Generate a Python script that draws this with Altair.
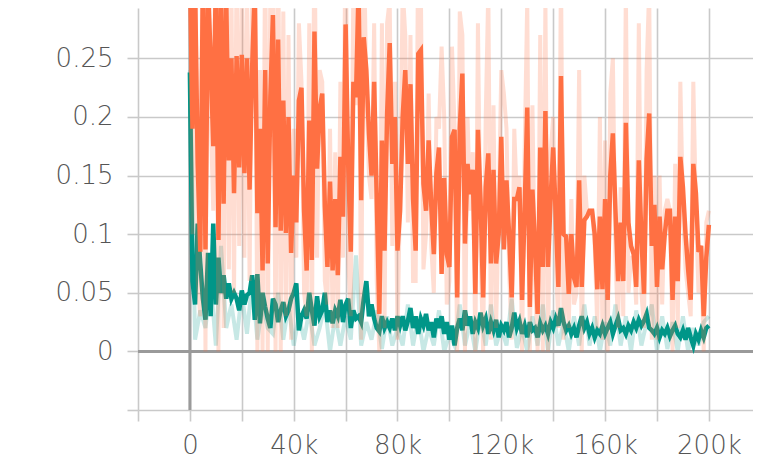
import altair as alt
import pandas as pd

# ---- data ----
# orange run, smoothed curve, one value every 1k steps (0 .. 200k)
orange_smooth = [
    0.33, 0.19, 0.31, 0.16, 0.085, 0.32, 0.087, 0.31, 0.25, 0.175, 0.32, 0.095, 0.31,
    0.126, 0.30, 0.163, 0.25, 0.135, 0.252, 0.157, 0.253,
    0.152, 0.25, 0.138, 0.243, 0.31, 0.118, 0.19,
    0.069, 0.24, 0.075, 0.217, 0.287, 0.106, 0.266, 0.103, 0.214, 0.101, 0.2, 0.084,
    0.15, 0.11, 0.214, 0.225, 0.12, 0.069, 0.197, 0.078, 0.273, 0.156, 0.207, 0.22,
    0.124, 0.072, 0.145, 0.069, 0.13, 0.065, 0.166, 0.115, 0.279, 0.16, 0.085, 0.23,
    0.217, 0.31, 0.129, 0.268, 0.24, 0.186, 0.15, 0.23, 0.13, 0.032, 0.18, 0.086,
    0.203, 0.263, 0.16, 0.2, 0.086,
    0.12, 0.2, 0.24, 0.16, 0.228, 0.13, 0.086, 0.254, 0.257, 0.143, 0.12, 0.18, 0.125,
    0.083, 0.152, 0.174, 0.066, 0.148, 0.083, 0.072, 0.183, 0.189, 0.046, 0.19, 0.237,
    0.092, 0.16, 0.134, 0.155, 0.049, 0.189, 0.13, 0.046, 0.14, 0.169, 0.075, 0.155,
    0.075, 0.1, 0.183,
    0.087, 0.146, 0.1, 0.046, 0.13, 0.13, 0.14, 0.044, 0.12, 0.208, 0.038, 0.138, 0.09,
    0.032, 0.174, 0.072, 0.205, 0.072, 0.13, 0.174, 0.115, 0.055, 0.235, 0.1, 0.098,
    0.049, 0.1, 0.063, 0.055, 0.146, 0.055, 0.112, 0.115, 0.12, 0.12, 0.1, 0.053,
    0.115, 0.053, 0.13,
    0.044, 0.15, 0.186, 0.12, 0.06, 0.11, 0.06, 0.195, 0.11, 0.09, 0.083, 0.055, 0.163,
    0.097, 0.049, 0.164, 0.203, 0.09, 0.125, 0.055, 0.115, 0.07, 0.1, 0.12, 0.12,
    0.044, 0.115, 0.06, 0.166, 0.14, 0.1, 0.07, 0.044, 0.16, 0.135, 0.085, 0.09,
    0.03, 0.08, 0.108,
]

# orange run, raw (faded) curve, one value every 1k steps
orange_raw = [
    0.35, 0.10, 0.38, 0.06, 0.03, 0.40, 0.0, 0.40, 0.20, 0.12,
    0.40, 0.0, 0.40, 0.02, 0.38, 0.07, 0.31, 0.05, 0.33, 0.09,
    0.32, 0.08, 0.32, 0.06, 0.31, 0.36, 0.0, 0.24, 0.0, 0.35,
    0.0, 0.31, 0.33, 0.0, 0.37, 0.0, 0.29, 0.03, 0.27, 0.01,
    0.19, 0.08, 0.28, 0.23, 0.05, 0.03, 0.28, 0.0, 0.38, 0.08,
    0.24, 0.23, 0.06, 0.04, 0.19, 0.02, 0.17, 0.02, 0.23, 0.08,
    0.38, 0.08, 0.03, 0.32, 0.21, 0.37, 0.01, 0.36, 0.22, 0.15,
    0.13, 0.28, 0.06, 0.0, 0.28, 0.02, 0.28, 0.30, 0.09, 0.23,
    0.01, 0.14, 0.31, 0.27, 0.11, 0.27, 0.06, 0.06, 0.36, 0.31,
    0.07, 0.10, 0.22, 0.09, 0.05, 0.20, 0.19, 0.26, 0.20, 0.04,
    0.06, 0.26, 0.19, 0.0, 0.29, 0.27, 0.0, 0.20, 0.12, 0.17,
    0.0, 0.28, 0.09, 0.0, 0.20, 0.31, 0.01, 0.21, 0.02, 0.12,
    0.24, 0.22, 0.19, 0.07, 0.01, 0.19, 0.13, 0.15, 0.0, 0.17,
    0.30, 0.0, 0.21, 0.06, 0.0, 0.27, 0.0, 0.30, 0.0, 0.17,
    0.20, 0.08, 0.02, 0.33, 0.01, 0.10, 0.02, 0.13, 0.04, 0.05,
    0.24, 0.0, 0.15, 0.12, 0.12, 0.12, 0.09, 0.02, 0.20, 0.01,
    0.18, 0.0, 0.22, 0.25, 0.08, 0.02, 0.14, 0.03, 0.31, 0.05,
    0.08, 0.08, 0.04, 0.28, 0.05, 0.02, 0.24, 0.31, 0.01, 0.15,
    0.01, 0.15, 0.04, 0.12, 0.13, 0.12, 0.0, 0.16, 0.02, 0.23,
    0.12, 0.07, 0.05, 0.03, 0.23, 0.12, 0.05, 0.09, 0.0, 0.11,
    0.12,
]

# teal run, smoothed curve, one value every 1k steps
teal_smooth = [
    0.238, 0.06, 0.04, 0.109, 0.075, 0.045, 0.027, 0.084, 0.03, 0.109, 0.04,
    0.08, 0.05, 0.065, 0.045, 0.058, 0.045, 0.05, 0.045, 0.035, 0.052,
    0.04, 0.048, 0.05, 0.065, 0.027, 0.066, 0.024, 0.05, 0.038, 0.028,
    0.02, 0.045, 0.04, 0.025, 0.035, 0.042, 0.03, 0.035, 0.045, 0.05,
    0.058, 0.018, 0.03, 0.035, 0.028, 0.05, 0.035, 0.022, 0.047, 0.03,
    0.035, 0.05, 0.025, 0.035, 0.024, 0.035, 0.03, 0.044, 0.025, 0.04,
    0.045, 0.02, 0.035, 0.028, 0.03, 0.025, 0.045, 0.06, 0.03, 0.04,
    0.028, 0.02, 0.017, 0.03, 0.02, 0.025, 0.02, 0.028, 0.018, 0.03,
    0.022, 0.03, 0.018, 0.026, 0.037, 0.02, 0.03, 0.015, 0.028, 0.022,
    0.032, 0.018, 0.025, 0.012, 0.028, 0.02, 0.03, 0.015, 0.025, 0.01,
    0.022, 0.005, 0.02, 0.028, 0.018, 0.035, 0.022, 0.03, 0.015, 0.025,
    0.02, 0.033, 0.022, 0.028, 0.015, 0.025, 0.018, 0.027, 0.012, 0.022,
    0.018, 0.025, 0.012, 0.02, 0.033, 0.02, 0.026, 0.015, 0.022, 0.012,
    0.025, 0.018, 0.02, 0.012, 0.024, 0.018, 0.022, 0.015, 0.025, 0.02,
    0.028, 0.022, 0.037, 0.025, 0.018, 0.022, 0.015, 0.02, 0.012, 0.022,
    0.03, 0.02, 0.025, 0.015, 0.02, 0.012, 0.018, 0.015, 0.022, 0.015,
    0.02, 0.025, 0.015, 0.022, 0.028, 0.018, 0.02, 0.015, 0.022, 0.018,
    0.025, 0.02, 0.027, 0.022, 0.026, 0.032, 0.02, 0.018, 0.015, 0.02,
    0.012, 0.018, 0.015, 0.02, 0.013, 0.018, 0.022, 0.015, 0.012, 0.018,
    0.01, 0.02, 0.012, 0.005, 0.015, 0.01, 0.018, 0.012, 0.02, 0.022,
]

# teal run, raw (faded) curve, one value every 2k steps
teal_raw = [
    0.24, 0.01, 0.035, 0.02, 0.06, 0.005, 0.09, 0.02, 0.04, 0.01, 0.05,
    0.015, 0.06, 0.01, 0.04, 0.02, 0.015, 0.05, 0.01, 0.04, 0.005,
    0.03, 0.01, 0.035, 0.005, 0.02, 0.04, 0.0, 0.03, 0.005, 0.03,
    0.01, 0.082, 0.005, 0.025, 0.01, 0.035, 0.002, 0.03, 0.005, 0.02,
    0.005, 0.04, 0.005, 0.03, 0.0, 0.02, 0.005, 0.035, 0.0, 0.015,
    0.005, 0.04, 0.005, 0.025, 0.0, 0.03, 0.005, 0.04, 0.005, 0.02,
    0.005, 0.045, 0.003, 0.02, 0.0, 0.03, 0.005, 0.04, 0.0, 0.035,
    0.005, 0.025, 0.0, 0.03, 0.005, 0.04, 0.005, 0.03, 0.0, 0.025,
    0.005, 0.04, 0.005, 0.03, 0.0, 0.035, 0.005, 0.025, 0.04, 0.0,
    0.03, 0.002, 0.025, 0.0, 0.03, 0.0, 0.02, 0.005, 0.025, 0.03,
]

x_ticks = [-20000, 0, 20000, 40000, 60000, 80000, 100000, 120000,
           140000, 160000, 180000, 200000]
y_ticks = [-0.05, 0, 0.05, 0.1, 0.15, 0.2, 0.25]


def frame(values, every):
    return pd.DataFrame({"step": [i * every for i in range(len(values))],
                         "value": values})


df_os = frame(orange_smooth, 1000)
df_or = frame(orange_raw, 1000)
df_ts = frame(teal_smooth, 1000)
df_tr = frame(teal_raw, 2000)

FONT = "DejaVu Sans ExtraLight, DejaVu Sans Light, DejaVu Sans"
LABEL_COLOR = "#555555"
GRID = "#c9c9c9"

x_enc = alt.X(
    "step:Q",
    scale=alt.Scale(domain=[-20000, 217000], nice=False, zero=False),
    axis=alt.Axis(
        values=x_ticks,
        title=None,
        grid=True,
        gridColor=GRID,
        gridWidth=1.6,
        domain=False,
        ticks=True,
        tickColor=GRID,
        tickWidth=1.6,
        tickSize=11,
        labelExpr="(datum.value < 0 || datum.value % 40000 != 0) ? '' : (datum.value == 0 ? '0' : (datum.value / 1000) + 'k')",
        labelFont=FONT,
        labelFontSize=26,
        labelFontWeight=200,
        labelColor=LABEL_COLOR,
        labelPadding=11,
        labelOverlap=False,
        labelFlush=False,
        labelBound=False,
    ),
)

y_enc = alt.Y(
    "value:Q",
    scale=alt.Scale(domain=[-0.05, 0.293], nice=False, zero=False),
    axis=alt.Axis(
        values=y_ticks,
        title=None,
        grid=True,
        gridColor=GRID,
        gridWidth=1.6,
        domain=False,
        ticks=True,
        tickColor=GRID,
        tickWidth=1.6,
        tickSize=11,
        labelExpr="datum.value < 0 ? '' : format(datum.value, '~g')",
        labelFont=FONT,
        labelFontSize=26,
        labelFontWeight=200,
        labelColor=LABEL_COLOR,
        labelPadding=14,
        labelOverlap=False,
        labelFlush=False,
    ),
)

zero_df = pd.DataFrame({"step": [0], "value": [0]})
zero_h = alt.Chart(zero_df).mark_rule(color="#9a9a9a", strokeWidth=3).encode(
    y=alt.Y("value:Q")
)
zero_v = alt.Chart(zero_df).mark_rule(color="#9a9a9a", strokeWidth=3).encode(
    x=alt.X("step:Q")
)

teal_raw_line = alt.Chart(df_tr).mark_line(
    color="#009688", opacity=0.22, strokeWidth=4, clip=True
).encode(x=x_enc, y=y_enc)
teal_line = alt.Chart(df_ts).mark_line(
    color="#009688", strokeWidth=4.5, clip=True
).encode(x="step:Q", y="value:Q")
orange_raw_line = alt.Chart(df_or).mark_line(
    color="#ff7043", opacity=0.24, strokeWidth=4, clip=True
).encode(x="step:Q", y="value:Q")
orange_line = alt.Chart(df_os).mark_line(
    color="#ff7043", strokeWidth=4.5, clip=True
).encode(x="step:Q", y="value:Q")

chart = alt.layer(
    teal_raw_line, zero_h, zero_v, teal_line, orange_raw_line, orange_line
).properties(
    width=615,
    height=402,
    autosize=alt.AutoSizeParams(type="none"),
    padding={"left": 130, "top": 0, "right": 0, "bottom": 50},
).configure_view(strokeWidth=0)

chart.save("out.html", embed_options={"renderer": "svg", "actions": False})
